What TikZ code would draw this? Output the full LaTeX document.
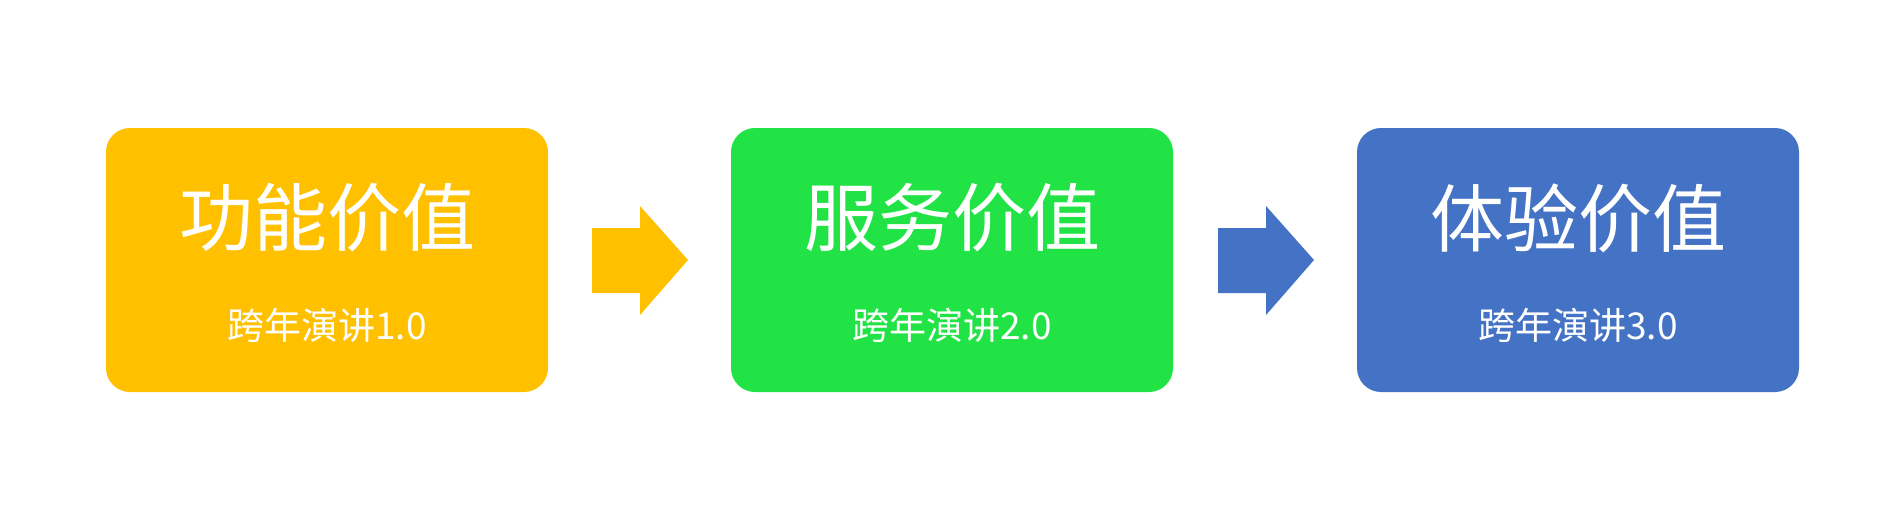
\documentclass[tikz,border=0pt]{standalone}
\usepackage{fontspec}
\newfontfamily\cjk{Noto Sans CJK SC}
\definecolor{cyellow}{HTML}{FFC000}
\definecolor{cgreen}{HTML}{22E345}
\definecolor{cblue}{HTML}{4472C4}
\begin{document}
\begin{tikzpicture}[x=1pt,y=-1pt,
  card/.style={rounded corners=24pt, minimum width=442pt, minimum height=264pt, inner sep=0pt, outer sep=0pt},
  ttl/.style={text=white, font=\cjk\fontsize{74}{80}\selectfont, inner sep=0pt},
  sub/.style={text=white, font=\cjk\fontsize{37}{42}\selectfont, inner sep=0pt}]
\useasboundingbox (0,0) rectangle (1898,522);
\fill[white] (0,0) rectangle (1898,522);
\node[card, fill=cyellow] (b1) at (327,260) {};
\node[card, fill=cgreen] (b2) at (952,260) {};
\node[card, fill=cblue] (b3) at (1578,260) {};
\node[ttl] (t1) at (327,218) {功能价值};
\node[ttl] (t2) at (952,218) {服务价值};
\node[ttl] (t3) at (1578,218) {体验价值};
\node[sub] (s1) at (327,325) {跨年演讲1.0};
\node[sub] (s2) at (952,325) {跨年演讲2.0};
\node[sub] (s3) at (1578,325) {跨年演讲3.0};
\fill[cyellow] (592,228) -- (640,228) -- (640,206) -- (688,260) -- (640,315) -- (640,293) -- (592,293) -- cycle;
\fill[cblue] (1218,228) -- (1266,228) -- (1266,206) -- (1314,260) -- (1266,315) -- (1266,293) -- (1218,293) -- cycle;
\end{tikzpicture}
\end{document}
